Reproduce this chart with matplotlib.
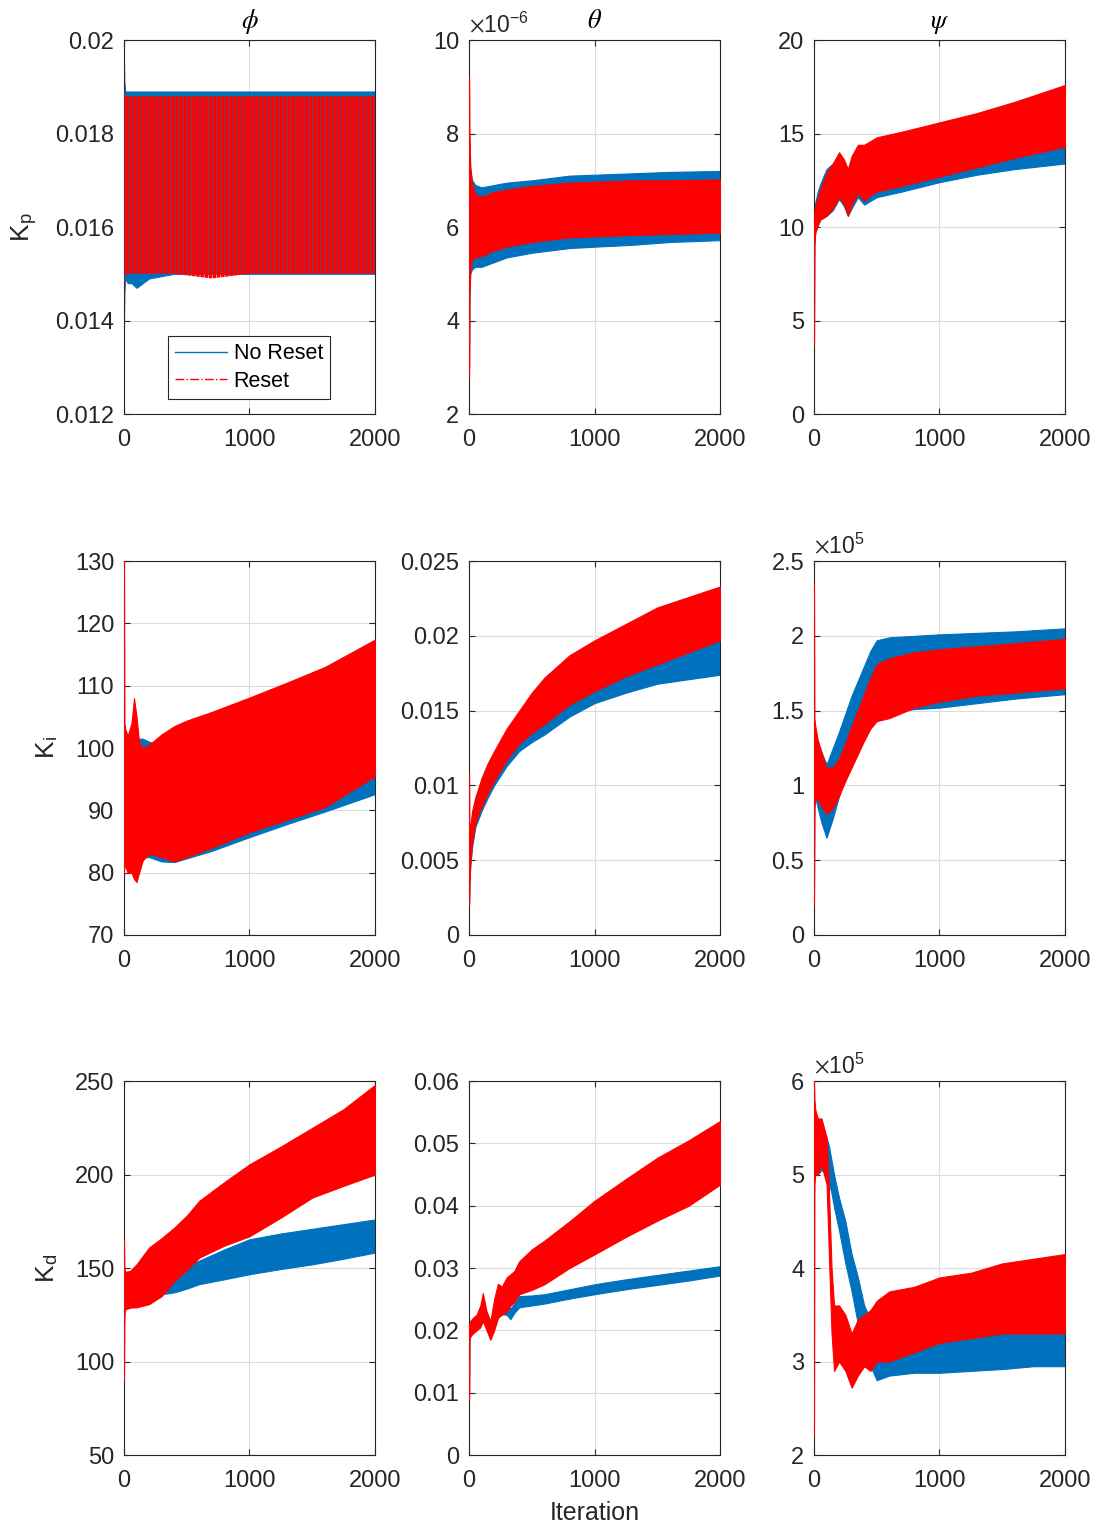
import matplotlib
matplotlib.use("Agg")
import matplotlib.pyplot as plt
from matplotlib.lines import Line2D
from matplotlib.ticker import FuncFormatter

plt.rcParams["font.family"] = "Liberation Sans"
plt.rcParams["mathtext.fontset"] = "stix"
plt.rcParams["hatch.linewidth"] = 2.6

BLUE = "#0072BD"
RED = "#FF0000"
DARK = "#262626"

# envelopes (min / max of the oscillation) at a few iterations
# --- Kp, phi
kp_phi_x = [0, 3, 10, 30, 60, 100, 200, 400, 700, 1000, 1300, 1600, 2000]
kp_phi_blue_hi = [0.0195, 0.0191, 0.0189, 0.0189, 0.0189, 0.0189, 0.0189, 0.0189, 0.0189, 0.0189, 0.0189, 0.0189, 0.0189]
kp_phi_blue_lo = [0.0140, 0.0146, 0.0149, 0.0148, 0.0148, 0.0147, 0.0149, 0.0150, 0.0150, 0.0150, 0.0150, 0.0150, 0.0150]
kp_phi_red_hi = [0.0196, 0.0190, 0.0188, 0.0188, 0.0188, 0.0188, 0.0188, 0.0188, 0.0188, 0.0188, 0.0188, 0.0188, 0.0188]
kp_phi_red_lo = [0.0139, 0.0147, 0.0150, 0.0150, 0.0150, 0.0150, 0.0150, 0.0150, 0.0149, 0.0150, 0.0150, 0.0150, 0.0150]

# --- Kp, theta (x 1e-6)
kp_theta_x = [0, 3, 10, 25, 50, 100, 200, 300, 500, 800, 1000, 1300, 1600, 2000]
kp_theta_blue_hi = [8.0, 7.6, 7.2, 7.0, 6.9, 6.85, 6.9, 6.95, 7.0, 7.1, 7.12, 7.15, 7.18, 7.2]
kp_theta_blue_lo = [3.0, 4.5, 5.0, 5.1, 5.15, 5.15, 5.25, 5.35, 5.45, 5.55, 5.58, 5.62, 5.68, 5.72]
kp_theta_red_hi = [9.2, 8.0, 7.3, 6.9, 6.7, 6.65, 6.75, 6.8, 6.88, 6.95, 6.97, 7.0, 7.0, 7.02]
kp_theta_red_lo = [2.8, 4.6, 5.1, 5.3, 5.35, 5.38, 5.5, 5.58, 5.68, 5.78, 5.8, 5.83, 5.85, 5.88]

# --- Kp, psi
kp_psi_x = [0, 3, 10, 30, 50, 100, 150, 200, 240, 270, 300, 350, 400, 450, 500, 700, 1000, 1300, 1600, 2000]
kp_psi_blue_hi = [10.0, 10.9, 11.3, 11.9, 12.3, 13.1, 13.4, 13.8, 13.4, 13.0, 13.6, 14.1, 14.0, 14.1, 14.2, 14.4, 14.7, 15.0, 15.3, 15.7]
kp_psi_blue_lo = [3.7, 9.0, 9.7, 10.1, 10.4, 10.6, 10.9, 11.5, 11.1, 10.6, 11.0, 11.6, 11.2, 11.4, 11.6, 11.9, 12.4, 12.8, 13.1, 13.4]
kp_psi_red_hi = [10.0, 10.8, 11.1, 11.6, 12.0, 12.9, 13.4, 14.0, 13.6, 13.1, 13.8, 14.4, 14.4, 14.6, 14.8, 15.1, 15.6, 16.1, 16.7, 17.6]
kp_psi_red_lo = [3.7, 9.0, 9.7, 10.1, 10.4, 10.6, 11.0, 11.6, 11.2, 10.6, 11.2, 11.8, 11.4, 11.7, 11.9, 12.2, 12.7, 13.2, 13.7, 14.3]

# --- Ki, phi
ki_phi_x = [0, 3, 10, 30, 60, 80, 100, 120, 150, 200, 300, 400, 500, 700, 1000, 1300, 1600, 2000]
ki_phi_blue_hi = [100, 103, 102.5, 102, 101.5, 101, 101.5, 101.5, 101.5, 101, 100.5, 101, 102, 103.5, 105.5, 107.5, 109.5, 112]
ki_phi_blue_lo = [82, 83, 83, 82.5, 82, 81.5, 82, 82, 82.5, 82.5, 81.8, 81.7, 82.3, 83.5, 85.7, 87.8, 89.8, 92.6]
ki_phi_red_hi = [130, 104, 103, 102, 104, 108, 105, 101, 100, 100.5, 102.2, 103.5, 104.4, 105.8, 108.1, 110.5, 113, 117.4]
ki_phi_red_lo = [80, 82, 81, 80, 80, 79, 78.5, 80, 82, 83, 82.5, 81.8, 82.5, 84, 86.5, 88.5, 90.5, 95.5]

# --- Ki, theta
ki_theta_x = [0, 3, 10, 25, 50, 100, 150, 200, 300, 400, 500, 600, 800, 1000, 1250, 1500, 1750, 2000]
ki_theta_blue_hi = [0.0050, 0.0058, 0.0070, 0.0081, 0.0090, 0.0103, 0.0112, 0.0120, 0.0134, 0.0145, 0.0155, 0.0163, 0.0176, 0.0185, 0.0193, 0.0199, 0.0203, 0.0206]
ki_theta_blue_lo = [0.0020, 0.0034, 0.0046, 0.0059, 0.0072, 0.0083, 0.0092, 0.0100, 0.0113, 0.0123, 0.0129, 0.0134, 0.0146, 0.0155, 0.0162, 0.0168, 0.0171, 0.0174]
ki_theta_red_hi = [0.0108, 0.0060, 0.0072, 0.0083, 0.0092, 0.0105, 0.0115, 0.0123, 0.0138, 0.0150, 0.0162, 0.0172, 0.0187, 0.0197, 0.0208, 0.0219, 0.0226, 0.0233]
ki_theta_red_lo = [0.0020, 0.0035, 0.0048, 0.0062, 0.0075, 0.0086, 0.0095, 0.0103, 0.0117, 0.0128, 0.0135, 0.0141, 0.0154, 0.0163, 0.0173, 0.0181, 0.0189, 0.0197]

# --- Ki, psi (x 1e5)
ki_psi_x = [0, 3, 10, 30, 60, 100, 150, 200, 250, 300, 400, 450, 500, 600, 800, 1000, 1300, 1600, 2000]
ki_psi_blue_hi = [1.4, 1.38, 1.36, 1.30, 1.22, 1.14, 1.25, 1.36, 1.48, 1.60, 1.80, 1.90, 1.97, 1.99, 2.0, 2.01, 2.02, 2.03, 2.05]
ki_psi_blue_lo = [0.3, 0.85, 0.92, 0.85, 0.75, 0.65, 0.78, 0.93, 1.08, 1.20, 1.39, 1.42, 1.45, 1.49, 1.51, 1.52, 1.55, 1.58, 1.61]
ki_psi_red_hi = [2.35, 1.45, 1.40, 1.30, 1.22, 1.12, 1.12, 1.18, 1.28, 1.40, 1.61, 1.72, 1.81, 1.85, 1.89, 1.91, 1.93, 1.95, 1.98]
ki_psi_red_lo = [0.2, 0.85, 0.92, 0.90, 0.86, 0.81, 0.85, 0.93, 1.03, 1.12, 1.30, 1.38, 1.43, 1.45, 1.52, 1.56, 1.60, 1.62, 1.65]

# --- Kd, phi
kd_phi_x = [0, 3, 10, 50, 100, 200, 300, 400, 500, 600, 800, 1000, 1250, 1500, 1750, 2000]
kd_phi_blue_hi = [150, 148, 147, 147.5, 147, 147, 147.5, 148.5, 151, 154, 160, 165.4, 168.5, 171, 173.5, 176]
kd_phi_blue_lo = [120, 127, 128, 129, 130, 132, 136, 137, 139, 141.4, 144, 146.7, 149.5, 152, 155, 158.3]
kd_phi_red_hi = [165, 150, 148, 148.5, 152, 161, 166, 171.6, 178, 186, 196, 205.5, 215, 225, 235, 248]
kd_phi_red_lo = [90, 125, 128, 128.9, 129, 130.7, 135, 143, 149, 155.6, 162, 167, 177, 187.7, 194, 200]

# --- Kd, theta
kd_theta_x = [0, 3, 10, 30, 60, 90, 110, 140, 170, 200, 230, 260, 300, 330, 360, 400, 500, 600, 800, 1000, 1250, 1500, 1750, 2000]
kd_theta_blue_hi = [0.021, 0.021, 0.0213, 0.0218, 0.0222, 0.0235, 0.025, 0.0228, 0.0215, 0.0235, 0.024, 0.0243, 0.0243, 0.0235, 0.0243, 0.0255, 0.0256, 0.0258, 0.0266, 0.0274, 0.0282, 0.0289, 0.0296, 0.0303]
kd_theta_blue_lo = [0.010, 0.0188, 0.0192, 0.0197, 0.0202, 0.0208, 0.0218, 0.0203, 0.0188, 0.0205, 0.0222, 0.0226, 0.0225, 0.0218, 0.0228, 0.0237, 0.024, 0.0243, 0.0251, 0.0258, 0.0266, 0.0273, 0.028, 0.0288]
kd_theta_red_hi = [0.021, 0.021, 0.0215, 0.022, 0.0225, 0.024, 0.026, 0.023, 0.0215, 0.025, 0.0275, 0.027, 0.0285, 0.029, 0.0295, 0.0311, 0.033, 0.0344, 0.0375, 0.0408, 0.0443, 0.0477, 0.0505, 0.0536]
kd_theta_red_lo = [0.009, 0.0185, 0.019, 0.0195, 0.020, 0.0205, 0.0215, 0.020, 0.0185, 0.020, 0.022, 0.0225, 0.023, 0.024, 0.0245, 0.0258, 0.0265, 0.0274, 0.030, 0.0322, 0.035, 0.0376, 0.040, 0.0434]

# --- Kd, psi (x 1e5)
kd_psi_x = [0, 3, 10, 30, 60, 100, 120, 140, 160, 200, 250, 300, 350, 400, 450, 500, 600, 800, 1000, 1250, 1500, 1750, 2000]
kd_psi_blue_hi = [5.8, 5.7, 5.65, 5.6, 5.5, 5.4, 5.3, 5.15, 5.0, 4.75, 4.5, 4.15, 3.9, 3.6, 3.45, 3.35, 3.3, 3.3, 3.3, 3.35, 3.35, 3.4, 3.4]
kd_psi_blue_lo = [4.8, 5.0, 5.05, 5.0, 5.05, 5.0, 4.9, 4.8, 4.65, 4.4, 4.05, 3.75, 3.4, 3.2, 2.95, 2.8, 2.85, 2.88, 2.88, 2.9, 2.92, 2.95, 2.95]
kd_psi_red_hi = [6.0, 5.8, 5.7, 5.6, 5.6, 5.4, 4.8, 4.0, 3.6, 3.6, 3.5, 3.3, 3.45, 3.5, 3.55, 3.65, 3.75, 3.8, 3.9, 3.95, 4.05, 4.1, 4.15]
kd_psi_red_lo = [2.2, 4.9, 5.0, 5.0, 5.1, 4.9, 4.1, 3.3, 2.9, 3.0, 2.9, 2.72, 2.85, 2.95, 2.9, 3.0, 3.0, 3.1, 3.2, 3.25, 3.3, 3.3, 3.3]

col_titles = [r"$\phi$", r"$\theta$", r"$\psi$"]
row_labels = [r"K$_{\mathregular{p}}$", r"K$_{\mathregular{i}}$", r"K$_{\mathregular{d}}$"]
y_ticks = [
    [[0.012, 0.014, 0.016, 0.018, 0.02], [2, 4, 6, 8, 10], [0, 5, 10, 15, 20]],
    [[70, 80, 90, 100, 110, 120, 130], [0, 0.005, 0.01, 0.015, 0.02, 0.025], [0, 0.5, 1, 1.5, 2, 2.5]],
    [[50, 100, 150, 200, 250], [0, 0.01, 0.02, 0.03, 0.04, 0.05, 0.06], [2, 3, 4, 5, 6]],
]
exponents = [[None, "-6", None], [None, None, "5"], [None, None, "5"]]
x_ticks = [0, 1000, 2000]

panels = [
    [(kp_phi_x, kp_phi_blue_lo, kp_phi_blue_hi, kp_phi_red_lo, kp_phi_red_hi),
     (kp_theta_x, kp_theta_blue_lo, kp_theta_blue_hi, kp_theta_red_lo, kp_theta_red_hi),
     (kp_psi_x, kp_psi_blue_lo, kp_psi_blue_hi, kp_psi_red_lo, kp_psi_red_hi)],
    [(ki_phi_x, ki_phi_blue_lo, ki_phi_blue_hi, ki_phi_red_lo, ki_phi_red_hi),
     (ki_theta_x, ki_theta_blue_lo, ki_theta_blue_hi, ki_theta_red_lo, ki_theta_red_hi),
     (ki_psi_x, ki_psi_blue_lo, ki_psi_blue_hi, ki_psi_red_lo, ki_psi_red_hi)],
    [(kd_phi_x, kd_phi_blue_lo, kd_phi_blue_hi, kd_phi_red_lo, kd_phi_red_hi),
     (kd_theta_x, kd_theta_blue_lo, kd_theta_blue_hi, kd_theta_red_lo, kd_theta_red_hi),
     (kd_psi_x, kd_psi_blue_lo, kd_psi_blue_hi, kd_psi_red_lo, kd_psi_red_hi)],
]

fig = plt.figure(figsize=(11.01, 15.30), dpi=100)
lefts = [0.1126, 0.426, 0.7393]
bottoms = [0.7294, 0.3889, 0.049]
w, h = 0.228, 0.2444

fmt = FuncFormatter(lambda v, pos: "%g" % v)

for r in range(3):
    for c in range(3):
        ax = fig.add_axes([lefts[c], bottoms[r], w, h])
        x, blo, bhi, rlo, rhi = panels[r][c]
        ax.fill_between(x, blo, bhi, facecolor=BLUE, edgecolor=BLUE, linewidth=0.8, zorder=2)
        if r == 0 and c == 0:
            # sparse oscillation: red drawn as stripes over the blue
            ax.fill_between(x, rlo, rhi, facecolor="none", edgecolor=RED, hatch="||||",
                            linewidth=0, zorder=3)
        else:
            ax.fill_between(x, rlo, rhi, facecolor=RED, edgecolor=RED, linewidth=0.8, zorder=3)

        yt = y_ticks[r][c]
        ax.set_xlim(0, 2000)
        ax.set_ylim(yt[0], yt[-1])
        ax.set_xticks(x_ticks)
        ax.set_yticks(yt)
        ax.yaxis.set_major_formatter(fmt)
        ax.grid(True, color="#dcdcdc", linewidth=0.8, zorder=0)
        ax.set_axisbelow(True)
        ax.tick_params(direction="in", length=4, width=0.8, top=True, right=True,
                       labelsize=17, colors=DARK, pad=7)
        ax.tick_params(axis="x", pad=11)
        for s in ax.spines.values():
            s.set_color(DARK)
            s.set_linewidth(0.8)

        if exponents[r][c] is not None:
            ax.text(0.0, 1.008, r"$\times\mathregular{10^{%s}}$" % exponents[r][c],
                    transform=ax.transAxes, ha="left", va="bottom", fontsize=16.5, color=DARK)
        if r == 0:
            ax.set_title(col_titles[c], fontsize=19, color="black", pad=9)
        if c == 0:
            ax.set_ylabel(row_labels[r], fontsize=19, color=DARK, labelpad=11)
        if r == 2 and c == 1:
            ax.set_xlabel("Iteration", fontsize=18, color=DARK, labelpad=6)

        if r == 0 and c == 0:
            handles = [Line2D([], [], color=BLUE, linewidth=1.0),
                       Line2D([], [], color=RED, linewidth=1.0, linestyle="-.")]
            leg = ax.legend(handles, ["No Reset", "Reset"], loc="lower left",
                            bbox_to_anchor=(0.175, 0.04), fontsize=15.5, fancybox=False,
                            edgecolor=DARK, framealpha=1, handlelength=2.4,
                            borderpad=0.35, labelspacing=0.3, handletextpad=0.3,
                            borderaxespad=0)
            leg.get_frame().set_linewidth(0.8)

fig.savefig("out.png", dpi=100)
